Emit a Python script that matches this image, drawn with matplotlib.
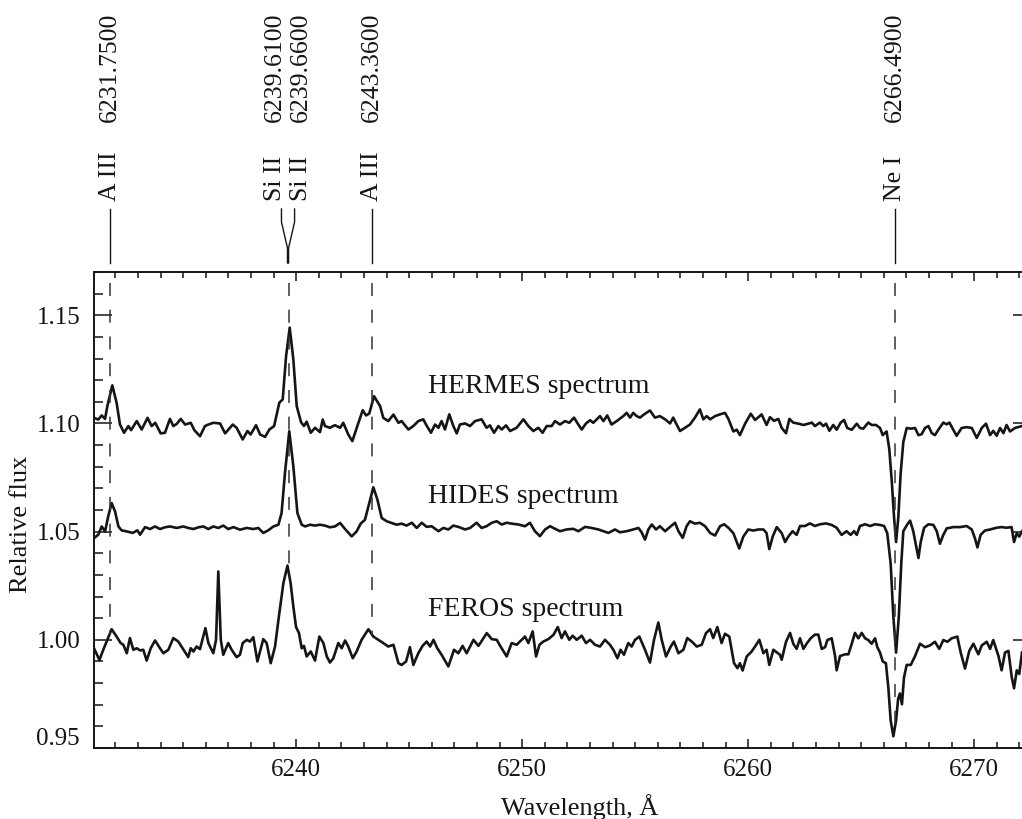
import matplotlib
matplotlib.use("Agg")
import matplotlib.pyplot as plt
import numpy as np
from matplotlib.ticker import MultipleLocator, FormatStrFormatter
from matplotlib.transforms import ScaledTranslation

plt.rcParams["font.family"] = "Liberation Serif"

# HERMES spectrum (offset by +0.10)
hermes_wl = [
    6231.05, 6231.24, 6231.39, 6231.54, 6231.64, 6231.86, 6232.05, 6232.20, 6232.38, 6232.57,
    6232.69, 6232.94, 6233.16, 6233.42, 6233.60, 6233.76, 6234.00, 6234.19, 6234.41, 6234.56,
    6234.71, 6234.89, 6235.08, 6235.33, 6235.49, 6235.74, 6235.96, 6236.11, 6236.33, 6236.63,
    6236.85, 6237.19, 6237.36, 6237.63, 6237.84, 6237.98, 6238.22, 6238.40, 6238.62, 6238.81,
    6239.02, 6239.25, 6239.40, 6239.55, 6239.71, 6239.87, 6240.02, 6240.21, 6240.34, 6240.46,
    6240.64, 6240.83, 6241.05, 6241.17, 6241.27, 6241.49, 6241.71, 6241.94, 6242.08, 6242.30,
    6242.48, 6242.75, 6242.94, 6243.09, 6243.23, 6243.44, 6243.71, 6243.85, 6244.07, 6244.30,
    6244.52,
    6244.66, 6244.96, 6245.18, 6245.40, 6245.62, 6245.74, 6245.96, 6246.14, 6246.29, 6246.43,
    6246.58, 6246.77, 6246.95, 6247.10, 6247.24, 6247.47, 6247.69, 6247.91, 6248.20, 6248.42,
    6248.57, 6248.75, 6248.94, 6249.09, 6249.28, 6249.46, 6249.75, 6250.05, 6250.27, 6250.49,
    6250.71, 6250.90, 6251.08, 6251.30, 6251.45, 6251.67, 6251.89, 6252.08, 6252.29, 6252.48,
    6252.63, 6252.82, 6253.00, 6253.14, 6253.44, 6253.59, 6253.76, 6253.95, 6254.18, 6254.47,
    6254.62, 6254.77, 6254.91, 6255.06, 6255.21, 6255.39, 6255.65, 6255.87, 6256.09, 6256.32,
    6256.54, 6256.68, 6256.83, 6256.98, 6257.20, 6257.42, 6257.64, 6257.86, 6258.01, 6258.16,
    6258.31, 6258.53, 6258.75,
    6258.97, 6259.12, 6259.34, 6259.49, 6259.63, 6259.86, 6260.11, 6260.30, 6260.45, 6260.59,
    6260.81, 6260.96, 6261.14, 6261.33, 6261.48, 6261.67, 6261.82, 6261.99, 6262.22, 6262.44,
    6262.66, 6262.81, 6262.95, 6263.17, 6263.32, 6263.44, 6263.59, 6263.76, 6263.91, 6264.09,
    6264.24, 6264.38, 6264.58, 6264.80, 6264.94, 6265.09, 6265.31, 6265.46, 6265.65, 6265.83,
    6265.95, 6266.12, 6266.24, 6266.35, 6266.45, 6266.54, 6266.64, 6266.74, 6266.86, 6267.01,
    6267.19, 6267.38, 6267.53, 6267.67, 6267.82, 6267.97, 6268.12, 6268.26, 6268.41, 6268.63,
    6268.78, 6268.90, 6269.07, 6269.22, 6269.44, 6269.66, 6269.89, 6270.11, 6270.33, 6270.52,
    6270.70, 6270.84, 6270.99, 6271.14, 6271.29, 6271.43, 6271.58, 6271.80, 6272.11,
]
hermes_flux = [
    1.1026, 1.1018, 1.1037, 1.1021, 1.1080, 1.1176, 1.1096, 1.0995, 1.0957, 1.0988,
    1.0969, 1.1011, 1.0972, 1.1026, 1.0988, 1.1003, 1.0954, 1.0957, 1.1021, 1.0988,
    1.0998, 1.1021, 1.0995, 1.1003, 1.0969, 1.0941, 1.0988, 1.0995, 1.1003, 1.1000,
    1.0954, 1.0995, 1.0980, 1.0926, 1.0965, 1.0949, 1.0992, 1.0949, 1.0938, 1.0972,
    1.0988, 1.1096, 1.1111, 1.1312, 1.1443, 1.1296, 1.1080, 1.1006, 1.0988, 1.1008,
    1.0957, 1.0980, 1.0960, 1.1018, 1.0988, 1.0980, 1.0992, 1.0980, 1.1003, 1.0949,
    1.0918, 1.1003, 1.1061, 1.1037, 1.1046, 1.1126, 1.1080, 1.1026, 1.1011, 1.1041,
    1.1003,
    1.1011, 1.0972, 1.0988, 1.1011, 1.1019, 1.0995, 1.0957, 1.0995, 1.0980, 1.1011,
    1.0972, 1.1042, 1.0988, 1.0954, 1.0995, 1.1000, 1.0988, 1.1011, 1.1019, 1.0980,
    1.0991, 1.0957, 1.0988, 1.0972, 1.0991, 1.0965, 1.0980, 1.1019, 1.0988, 1.0965,
    1.0980, 1.0957, 1.0988, 1.0988, 1.1011, 1.0995, 1.1011, 1.1003, 1.1027, 1.0995,
    1.0972, 1.1000, 1.1015, 1.1003, 1.1034, 1.1011, 1.1037, 1.0995, 1.1011, 1.1034,
    1.1049, 1.1027, 1.1049, 1.1034, 1.1027, 1.1042, 1.1060, 1.1027, 1.1034, 1.1019,
    1.1000, 1.1027, 1.0995, 1.0965, 1.0980, 1.0995, 1.1027, 1.1065, 1.1019, 1.1034,
    1.1019, 1.1034, 1.1042,
    1.1049, 1.1021, 1.0963, 1.0971, 1.0946, 1.0999, 1.1045, 1.1016, 1.1029, 1.1042,
    1.0993, 1.1029, 1.1012, 1.1021, 1.0979, 1.0955, 1.1021, 1.1004, 1.0999, 1.0993,
    1.0999, 1.1004, 1.0988, 1.1004, 1.0988, 1.0999, 1.0966, 1.0993, 1.0971, 1.1004,
    1.1016, 1.0979, 1.0971, 1.0999, 1.0979, 1.0976, 1.1004, 1.0993, 1.0993, 1.0979,
    1.0946, 1.0963, 1.0881, 1.0732, 1.0567, 1.0452, 1.0567, 1.0765, 1.0914, 1.0979,
    1.0976, 1.0979, 1.0946, 1.0950, 1.0979, 1.0988, 1.0955, 1.0946, 1.0971, 1.1004,
    1.0996, 1.1004, 1.0971, 1.0943, 1.0979, 1.0983, 1.0979, 1.0933, 1.0979, 1.0999,
    1.0946, 1.0966, 1.0943, 1.0979, 1.0955, 1.0993, 1.0963, 1.0979, 1.0988,
]

# HIDES spectrum (offset by +0.05)
hides_wl = [
    6231.05, 6231.24, 6231.39, 6231.54, 6231.68, 6231.83, 6231.98, 6232.13, 6232.27, 6232.50,
    6232.76, 6232.97, 6233.09, 6233.31, 6233.53, 6233.75, 6233.97, 6234.19, 6234.41, 6234.71,
    6235.00, 6235.22, 6235.45, 6235.67, 6235.89, 6236.11, 6236.33, 6236.55, 6236.77, 6236.99,
    6237.22, 6237.51, 6237.81, 6238.10, 6238.32, 6238.54, 6238.76, 6238.99, 6239.21, 6239.35,
    6239.50, 6239.69, 6239.87, 6240.05, 6240.24, 6240.39, 6240.61, 6240.83, 6241.05, 6241.27,
    6241.49, 6241.71, 6241.94, 6242.16, 6242.45, 6242.67, 6242.85, 6243.04, 6243.23, 6243.41,
    6243.59, 6243.78, 6244.00, 6244.22, 6244.44,
    6244.66, 6244.88, 6245.11, 6245.33, 6245.55, 6245.77, 6245.99, 6246.29, 6246.51, 6246.73,
    6246.95, 6247.17, 6247.47, 6247.69, 6247.98, 6248.20, 6248.42, 6248.65, 6248.87, 6249.09,
    6249.31, 6249.53, 6249.83, 6250.12, 6250.34, 6250.56, 6250.78, 6251.01, 6251.23, 6251.45,
    6251.67, 6251.96, 6252.26, 6252.48, 6252.78, 6253.07, 6253.37, 6253.59, 6253.81, 6254.10,
    6254.32, 6254.62, 6254.91, 6255.14, 6255.28, 6255.43, 6255.58, 6255.73, 6255.92, 6256.09,
    6256.32, 6256.54, 6256.76, 6256.91, 6257.10, 6257.27, 6257.42, 6257.64, 6257.86, 6258.09,
    6258.31, 6258.53, 6258.75,
    6258.93, 6259.12, 6259.34, 6259.49, 6259.60, 6259.78, 6260.00, 6260.22, 6260.45, 6260.67,
    6260.81, 6260.93, 6261.08, 6261.26, 6261.48, 6261.63, 6261.77, 6261.96, 6262.14, 6262.29,
    6262.51, 6262.73, 6262.95, 6263.17, 6263.44, 6263.69, 6263.91, 6264.13, 6264.35, 6264.53,
    6264.68, 6264.80, 6264.94, 6265.17, 6265.39, 6265.61, 6265.83, 6266.01, 6266.15, 6266.30,
    6266.42, 6266.54, 6266.66, 6266.77, 6266.86, 6267.04, 6267.16, 6267.30, 6267.42, 6267.53,
    6267.63, 6267.78, 6267.97, 6268.19, 6268.34, 6268.48, 6268.63, 6268.78, 6269.07, 6269.37,
    6269.66, 6269.89, 6270.03, 6270.14, 6270.28, 6270.47, 6270.70, 6270.99, 6271.21, 6271.43,
    6271.65, 6271.76, 6271.88, 6271.99, 6272.11,
]
hides_flux = [
    1.0470, 1.0486, 1.0524, 1.0501, 1.0571, 1.0632, 1.0594, 1.0524, 1.0506, 1.0501,
    1.0494, 1.0506, 1.0486, 1.0521, 1.0512, 1.0524, 1.0512, 1.0520, 1.0524, 1.0517,
    1.0524, 1.0517, 1.0512, 1.0520, 1.0524, 1.0512, 1.0524, 1.0517, 1.0528, 1.0512,
    1.0521, 1.0509, 1.0517, 1.0512, 1.0517, 1.0494, 1.0506, 1.0524, 1.0532, 1.0586,
    1.0771, 1.0964, 1.0802, 1.0586, 1.0532, 1.0524, 1.0532, 1.0528, 1.0532, 1.0528,
    1.0520, 1.0524, 1.0540, 1.0512, 1.0478, 1.0501, 1.0537, 1.0555, 1.0632, 1.0705,
    1.0648, 1.0563, 1.0548, 1.0540, 1.0532,
    1.0537, 1.0528, 1.0541, 1.0517, 1.0541, 1.0522, 1.0525, 1.0502, 1.0517, 1.0510,
    1.0528, 1.0522, 1.0510, 1.0517, 1.0541, 1.0517, 1.0525, 1.0541, 1.0548, 1.0533,
    1.0541, 1.0537, 1.0533, 1.0525, 1.0541, 1.0502, 1.0479, 1.0510, 1.0525, 1.0513,
    1.0502, 1.0510, 1.0513, 1.0502, 1.0522, 1.0517, 1.0510, 1.0502, 1.0494, 1.0510,
    1.0497, 1.0502, 1.0510, 1.0517, 1.0497, 1.0463, 1.0510, 1.0533, 1.0510, 1.0525,
    1.0502, 1.0522, 1.0541, 1.0502, 1.0471, 1.0525, 1.0548, 1.0537, 1.0541, 1.0525,
    1.0494, 1.0482, 1.0525,
    1.0534, 1.0518, 1.0493, 1.0452, 1.0422, 1.0477, 1.0510, 1.0505, 1.0510, 1.0510,
    1.0493, 1.0419, 1.0477, 1.0521, 1.0493, 1.0452, 1.0477, 1.0502, 1.0485, 1.0526,
    1.0526, 1.0538, 1.0526, 1.0534, 1.0538, 1.0531, 1.0518, 1.0485, 1.0502, 1.0485,
    1.0502, 1.0485, 1.0526, 1.0534, 1.0526, 1.0534, 1.0531, 1.0526, 1.0493, 1.0353,
    1.0106, 0.9941, 1.0106, 1.0353, 1.0502, 1.0534, 1.0551, 1.0502, 1.0436, 1.0378,
    1.0452, 1.0518, 1.0534, 1.0531, 1.0502, 1.0444, 1.0485, 1.0515, 1.0521, 1.0521,
    1.0526, 1.0510, 1.0469, 1.0427, 1.0485, 1.0505, 1.0510, 1.0518, 1.0521, 1.0518,
    1.0521, 1.0452, 1.0493, 1.0477, 1.0502,
]

# FEROS spectrum (no offset)
feros_wl = [
    6231.05, 6231.29, 6231.46, 6231.61, 6231.83, 6232.05, 6232.23, 6232.35, 6232.50, 6232.64,
    6232.79, 6232.94, 6233.09, 6233.23, 6233.38, 6233.56, 6233.75, 6233.97, 6234.12, 6234.34,
    6234.56, 6234.78, 6234.97, 6235.22, 6235.33, 6235.45, 6235.59, 6235.74, 6235.98, 6236.11,
    6236.33, 6236.45, 6236.55, 6236.66, 6236.77, 6236.99, 6237.14, 6237.36, 6237.51, 6237.63,
    6237.81, 6237.95, 6238.10, 6238.28, 6238.54, 6238.69, 6238.87, 6239.06, 6239.25, 6239.43,
    6239.61, 6239.75, 6239.87, 6239.99, 6240.12, 6240.24, 6240.34, 6240.46, 6240.64, 6240.83,
    6241.02, 6241.20, 6241.35, 6241.49, 6241.64, 6241.86, 6242.01, 6242.16, 6242.30, 6242.50,
    6242.67, 6242.89, 6243.19, 6243.41, 6243.63, 6243.85, 6244.07, 6244.30, 6244.52,
    6244.66, 6244.86, 6245.03, 6245.18, 6245.40, 6245.59, 6245.77, 6245.92, 6246.07, 6246.24,
    6246.43, 6246.73, 6246.98, 6247.17, 6247.36, 6247.54, 6247.84, 6248.06, 6248.43, 6248.65,
    6248.87, 6249.04, 6249.31, 6249.53, 6249.75, 6249.97, 6250.12, 6250.27, 6250.46, 6250.61,
    6250.76, 6250.93, 6251.15, 6251.38, 6251.57, 6251.74, 6251.89, 6252.08, 6252.23, 6252.41,
    6252.63, 6252.82, 6253.00, 6253.22, 6253.44, 6253.66, 6253.88, 6254.03, 6254.21, 6254.35,
    6254.50, 6254.69, 6254.84, 6254.99, 6255.18, 6255.43, 6255.65, 6255.83, 6256.02, 6256.17,
    6256.36, 6256.57, 6256.71, 6256.91, 6257.13, 6257.30, 6257.50, 6257.72, 6257.94, 6258.13,
    6258.31, 6258.45, 6258.63, 6258.82, 6258.97, 6259.16, 6259.37, 6259.52, 6259.63, 6259.75,
    6259.93, 6260.15, 6260.30, 6260.49, 6260.67, 6260.81, 6260.93, 6261.11, 6261.40,
    6261.48, 6261.67, 6261.85, 6261.99, 6262.14, 6262.29, 6262.44, 6262.58, 6262.76, 6262.95,
    6263.10, 6263.25, 6263.40, 6263.50, 6263.69, 6263.84, 6263.91, 6264.06, 6264.28, 6264.43,
    6264.58, 6264.72, 6264.87, 6265.02, 6265.17, 6265.31, 6265.46, 6265.61, 6265.71, 6265.83,
    6265.95, 6266.09, 6266.20, 6266.30, 6266.42, 6266.54, 6266.63, 6266.71, 6266.80, 6266.89,
    6267.01, 6267.19, 6267.38, 6267.60, 6267.82, 6268.04, 6268.26, 6268.45, 6268.63, 6268.81,
    6269.00, 6269.25, 6269.40, 6269.59, 6269.78, 6269.96, 6270.18, 6270.33, 6270.55, 6270.70,
    6270.84, 6271.07, 6271.21, 6271.36, 6271.51, 6271.66, 6271.76, 6271.88, 6271.99, 6272.11,
]
feros_flux = [
    0.9961, 0.9907, 0.9954, 0.9992, 1.0049, 1.0015, 0.9985, 0.9977, 0.9938, 1.0008,
    0.9954, 0.9961, 0.9951, 0.9954, 0.9904, 0.9961, 0.9997, 0.9961, 0.9938, 0.9954,
    1.0008, 0.9992, 0.9961, 0.9920, 0.9961, 0.9946, 0.9969, 0.9957, 1.0054, 0.9985,
    0.9938, 1.0000, 1.0316, 1.0000, 0.9931, 0.9985, 0.9954, 0.9920, 0.9931, 0.9985,
    1.0000, 0.9992, 1.0012, 0.9900, 1.0003, 0.9985, 0.9892, 0.9969, 1.0123, 1.0262,
    1.0343, 1.0262, 1.0154, 1.0059, 1.0031, 0.9961, 0.9972, 0.9923, 0.9946, 0.9904,
    1.0015, 0.9985, 0.9923, 0.9895, 0.9915, 0.9985, 0.9961, 0.9997, 0.9969, 0.9915,
    0.9946, 1.0000, 1.0049, 1.0015, 1.0000, 0.9985, 0.9969, 0.9977, 0.9892,
    0.9884, 0.9900, 0.9966, 0.9884, 0.9938, 0.9972, 0.9992, 0.9969, 1.0000, 0.9961,
    0.9931, 0.9877, 0.9954, 0.9938, 0.9972, 0.9938, 1.0000, 0.9972, 1.0031, 1.0003,
    1.0000, 0.9969, 0.9923, 0.9985, 0.9977, 1.0000, 1.0015, 0.9985, 1.0039, 0.9923,
    0.9977, 0.9992, 1.0003, 1.0023, 1.0059, 1.0008, 1.0039, 1.0000, 1.0019, 1.0000,
    1.0019, 0.9985, 1.0000, 0.9977, 0.9969, 1.0000, 0.9977, 0.9954, 0.9915, 0.9954,
    0.9931, 0.9985, 0.9969, 1.0000, 1.0015, 0.9954, 0.9895, 1.0000, 1.0080, 1.0000,
    0.9923, 0.9969, 0.9992, 0.9938, 0.9954, 1.0008, 0.9992, 0.9969, 0.9977, 1.0031,
    1.0049, 1.0008, 1.0059, 0.9985, 1.0028, 1.0015, 0.9892, 0.9869, 0.9892, 0.9858,
    0.9923, 0.9946, 0.9969, 1.0000, 0.9938, 0.9954, 0.9884, 0.9954, 0.9931,
    0.9908, 0.9991, 1.0032, 0.9982, 0.9958, 1.0007, 0.9958, 0.9982, 1.0007, 1.0024,
    1.0024, 0.9958, 0.9966, 0.9999, 1.0007, 0.9925, 0.9859, 0.9925, 0.9933, 0.9933,
    0.9982, 1.0032, 1.0007, 1.0032, 1.0007, 0.9999, 0.9982, 1.0007, 0.9966, 0.9941,
    0.9900, 0.9892, 0.9776, 0.9628, 0.9554, 0.9628, 0.9727, 0.9752, 0.9702, 0.9826,
    0.9884, 0.9884, 0.9925, 0.9982, 0.9966, 0.9974, 0.9991, 0.9958, 0.9999, 0.9991,
    1.0007, 1.0015, 0.9941, 0.9867, 0.9949, 0.9982, 0.9933, 0.9974, 0.9991, 0.9958,
    0.9999, 0.9925, 0.9859, 0.9941, 0.9949, 0.9826, 0.9776, 0.9859, 0.9842, 0.9941,
]

# identified lines
line_ions = ["A III", "Si II", "Si II", "A III", "Ne I"]
line_wl = [6231.75, 6239.61, 6239.66, 6243.36, 6266.49]

spectra = [
    ("HERMES spectrum", hermes_wl, hermes_flux, 1.1171),
    ("HIDES spectrum", hides_wl, hides_flux, 1.0662),
    ("FEROS spectrum", feros_wl, feros_flux, 1.0139),
]

ink = "#151515"

fig = plt.figure(figsize=(10.22, 8.19), dpi=100)
ax = fig.add_axes([94 / 1022, 71 / 819, 937 / 1022, 476 / 819])

for name, wl, fl, ytxt in spectra:
    ax.plot(wl, fl, color=ink, linewidth=1.9, solid_joinstyle="round")
    ax.text(6245.83, ytxt, name, fontsize=20, ha="left", va="center", color=ink)

ax.set_xlim(6231.05, 6272.51)
ax.set_ylim(0.95, 1.17)

# blended lines: spread the labels (text) and the tops of the leader lines apart;
# only one dashed guide is drawn per blend
text_x = list(line_wl)
lead_x = list(line_wl)
guide_wl = []
for i, wl in enumerate(line_wl):
    if i + 1 < len(line_wl) and line_wl[i + 1] - wl < 0.5:
        mid = 0.5 * (wl + line_wl[i + 1])
        text_x[i], text_x[i + 1] = mid - 0.58, mid + 0.58
        lead_x[i], lead_x[i + 1] = mid - 0.29, mid + 0.29
        continue
    guide_wl.append(wl)

# dashed guides run from the top of the box down to the FEROS curve
for wl in guide_wl:
    bottom = np.interp(wl, feros_wl, feros_flux)
    ax.plot([wl, wl], [1.165, bottom], color="#333333", linewidth=1.1,
            linestyle=(0, (8.5, 9.0)))

trans = ax.get_xaxis_transform()
for ion, wl, tx, lx in zip(line_ions, line_wl, text_x, lead_x):
    ax.plot([lx, lx, wl, wl], [1.1324, 1.105, 1.0504, 1.0189], transform=trans,
            clip_on=False, color=ink, linewidth=1.0)
    ax.text(tx, 1.149, ion, transform=trans, rotation=90, ha="center", va="bottom",
            fontsize=18.5, color=ink)
    ax.text(tx, 1.315, f"{wl:.4f}", transform=trans, rotation=90, ha="center",
            va="bottom", fontsize=18.5, color=ink)

ax.xaxis.set_major_locator(MultipleLocator(10))
ax.xaxis.set_minor_locator(MultipleLocator(1))
ax.yaxis.set_major_locator(MultipleLocator(0.05))
ax.yaxis.set_minor_locator(MultipleLocator(0.01))
ax.yaxis.set_major_formatter(FormatStrFormatter("%.2f"))

ax.tick_params(which="both", direction="in", top=True, right=True, width=1.1,
               colors=ink, labelsize=18)
ax.tick_params(axis="x", which="major", length=6.5, pad=8)
ax.tick_params(axis="x", which="minor", length=4)
ax.tick_params(axis="y", which="major", length=13, pad=10)
ax.tick_params(axis="y", which="minor", length=6.5)
for sp in ax.spines.values():
    sp.set_linewidth(1.4)
    sp.set_color(ink)

ax.set_xlabel("Wavelength, Å", fontsize=19, color=ink)
ax.set_ylabel("Relative flux", fontsize=19, color=ink)
ax.xaxis.set_label_coords(0.5187, -0.124)
ax.xaxis.label.set_va("center")
ax.yaxis.set_label_coords(-0.0779, 0.4706)
ax.yaxis.label.set_va("center")

# lift the bottom y label a little off the x axis
fig.canvas.draw()
for tick in ax.yaxis.get_major_ticks():
    if abs(tick.get_loc() - 0.95) < 1e-6:
        tick.label1.set_transform(tick.label1.get_transform()
                                  + ScaledTranslation(0, 0.11, fig.dpi_scale_trans))

fig.savefig("out.png", dpi=100)
